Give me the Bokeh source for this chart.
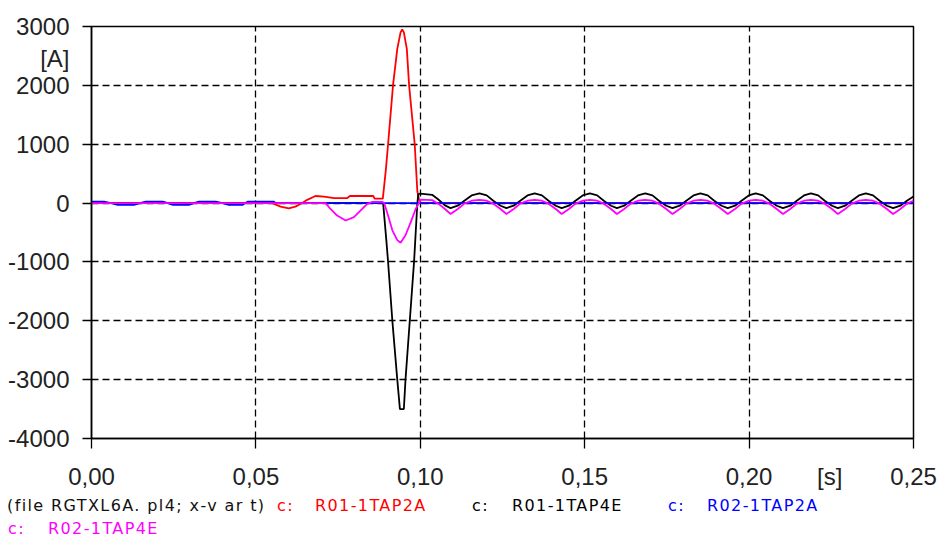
from bokeh.plotting import figure
from bokeh.layouts import column
from bokeh.models import ColumnDataSource, FixedTicker, Range1d, Div
from bokeh.embed import file_html
from bokeh.resources import INLINE

# ---------------- data ----------------
x_ticks = [0.0, 0.05, 0.10, 0.15, 0.20, 0.25]
x_tick_labels = ["0,00", "0,05", "0,10", "0,15", "0,20", "0,25"]
y_ticks = [3000, 2000, 1000, 0, -1000, -2000, -3000, -4000]
y_tick_labels = ["3000", "2000", "1000", "0", "-1000", "-2000", "-3000", "-4000"]

# unit captions, placed along the axes
y_unit_text, y_unit_at = "[A]", 2450
x_unit_text, x_unit_at = "[s]", 0.2245

# R01-1TAP2A (red)
t_r01_2a = [0.0, 0.0550, 0.0575, 0.0600, 0.0620, 0.0641, 0.0656, 0.0681, 0.0707,
            0.0738, 0.0778, 0.0786, 0.0857, 0.0861, 0.0886, 0.0895, 0.0902, 0.0917,
            0.0930, 0.0940, 0.0945, 0.0950, 0.0959, 0.0966, 0.0983, 0.0991, 0.0996,
            0.1001, 0.2500]
v_r01_2a = [0, 0, -60, -90, -60, 0, 55, 120, 110,
            85, 85, 120, 120, 75, 75, 550, 1000, 2000,
            2620, 2900, 2950, 2900, 2620, 2000, 1000, 200, 60,
            0, 0]

# R01-1TAP4E (black) - fault part
t_r01_4e_fault = [0.0, 0.0887, 0.0897, 0.0902, 0.0915, 0.0930, 0.0938, 0.0950, 0.0955,
                  0.0968, 0.0981, 0.0991, 0.0994, 0.1000, 0.1036, 0.1055, 0.1075]
v_r01_4e_fault = [0, 0, -650, -1000, -2000, -3000, -3500, -3500, -3000,
                  -2000, -1000, 0, 150, 160, 140, 60, -40]

# R02-1TAP4E (magenta) - fault part
t_r02_4e_fault = [0.0, 0.0712, 0.0727, 0.0747, 0.0773, 0.0798, 0.0818, 0.0838, 0.0854,
                  0.0884, 0.0890, 0.0902, 0.0915, 0.0930, 0.0940, 0.0955, 0.0971,
                  0.0986, 0.0996, 0.1000, 0.1036, 0.1055, 0.1075]
v_r02_4e_fault = [0, 0, -100, -212, -296, -240, -128, -17, 22,
                  22, 0, -212, -463, -630, -675, -547, -324,
                  -100, 0, 60, 50, -10, -100]

# post-fault 60 Hz oscillation (shared time stamps)
t_post = [0.1092, 0.1114, 0.1134, 0.1156, 0.1180, 0.1202, 0.1222, 0.1244,
          0.1262, 0.1284, 0.1304, 0.1326, 0.1348, 0.1370, 0.1390, 0.1412,
          0.1430, 0.1452, 0.1472, 0.1494, 0.1516, 0.1538, 0.1558, 0.1580,
          0.1598, 0.1620, 0.1640, 0.1662, 0.1684, 0.1706, 0.1726, 0.1748,
          0.1767, 0.1789, 0.1809, 0.1831, 0.1852, 0.1874, 0.1894, 0.1916,
          0.1935, 0.1957, 0.1977, 0.1999, 0.2020, 0.2042, 0.2062, 0.2084,
          0.2103, 0.2125, 0.2145, 0.2167, 0.2188, 0.2210, 0.2230, 0.2252,
          0.2270, 0.2292, 0.2312, 0.2334, 0.2355, 0.2377, 0.2397, 0.2419,
          0.2438, 0.2460, 0.2480, 0.2500]
v_r01_4e_post = [-85, -45, 40, 130, 165, 130, 40, -45,
                 -85, -45, 40, 130, 165, 130, 40, -45,
                 -85, -45, 40, 130, 165, 130, 40, -45,
                 -85, -45, 40, 130, 165, 130, 40, -45,
                 -85, -45, 40, 130, 165, 130, 40, -45,
                 -85, -45, 40, 130, 165, 130, 40, -45,
                 -85, -45, 40, 130, 165, 130, 40, -45,
                 -85, -45, 40, 130, 165, 130, 40, -45,
                 -85, -45, 40, 110]
v_r02_4e_post = [-185, -100, -10, 40, 55, 40, -10, -100,
                 -185, -100, -10, 40, 55, 40, -10, -100,
                 -185, -100, -10, 40, 55, 40, -10, -100,
                 -185, -100, -10, 40, 55, 40, -10, -100,
                 -185, -100, -10, 40, 55, 40, -10, -100,
                 -185, -100, -10, 40, 55, 40, -10, -100,
                 -185, -100, -10, 40, 55, 40, -10, -100,
                 -185, -100, -10, 40, 55, 40, -10, -100,
                 -185, -100, -10, 40]

# R02-1TAP2A (blue)
t_r02_2a = [0.0, 0.0038, 0.0059, 0.0080, 0.0129, 0.0147, 0.0165, 0.0217, 0.0232,
            0.0248, 0.0296, 0.0311, 0.0327, 0.0378, 0.0398, 0.0418, 0.0460, 0.0468,
            0.0476, 0.0555, 0.0560, 0.2500]
v_r02_2a = [25, 25, 0, -30, -30, 0, 25, 25, 0,
            -30, -30, 0, 25, 25, 0, -30, -30, 0,
            25, 25, 0, 0]

series_names = ["R01-1TAP2A", "R01-1TAP4E", "R02-1TAP2A", "R02-1TAP4E"]
series_colors = ["#ff0000", "#000000", "#0000ff", "#ff00ff"]
file_caption = "(file RGTXL6A. pl4; x-v ar t)"

# ---------------- main figure ----------------
p = figure(width=938, height=492, output_backend="svg", toolbar_location=None,
           x_range=Range1d(0, 0.25), y_range=Range1d(-4000, 3000),
           min_border_left=91, min_border_right=25, min_border_top=26,
           min_border_bottom=48)
p.background_fill_color = "white"
p.border_fill_color = "white"
p.outline_line_color = "black"
p.outline_line_width = 1.5

src_red = ColumnDataSource(dict(t=t_r01_2a, v=v_r01_2a))
src_black = ColumnDataSource(dict(t=t_r01_4e_fault + t_post, v=v_r01_4e_fault + v_r01_4e_post))
src_blue = ColumnDataSource(dict(t=t_r02_2a, v=v_r02_2a))
src_mag = ColumnDataSource(dict(t=t_r02_4e_fault + t_post, v=v_r02_4e_fault + v_r02_4e_post))

p.line("t", "v", source=src_red, color=series_colors[0], line_width=1.8)
p.line("t", "v", source=src_black, color=series_colors[1], line_width=1.8)
p.line("t", "v", source=src_blue, color=series_colors[2], line_width=1.8)
p.line("t", "v", source=src_mag, color=series_colors[3], line_width=1.8)

# axes: labels on major ticks (incl. unit captions), tick marks drawn as minor ticks
x_major = x_ticks[:5] + [x_unit_at] + x_ticks[5:]
x_major_labels = x_tick_labels[:5] + [x_unit_text] + x_tick_labels[5:]
y_major = y_ticks[:1] + [y_unit_at] + y_ticks[1:]
y_major_labels = y_tick_labels[:1] + [y_unit_text] + y_tick_labels[1:]

p.xaxis.ticker = FixedTicker(ticks=x_major, minor_ticks=x_ticks)
p.xaxis.major_label_overrides = {k: lab for k, lab in zip(x_major, x_major_labels)}
p.yaxis.ticker = FixedTicker(ticks=y_major, minor_ticks=y_ticks)
p.yaxis.major_label_overrides = {k: lab for k, lab in zip(y_major, y_major_labels)}
for ax in (p.xaxis[0], p.yaxis[0]):
    ax.axis_line_color = "black"
    ax.axis_line_width = 1.5
    ax.major_tick_line_color = None
    ax.major_tick_in = 0
    ax.major_tick_out = 0
    ax.minor_tick_line_color = "black"
    ax.minor_tick_line_width = 1.3
    ax.minor_tick_in = 0
    ax.major_label_text_font = "Liberation Sans"
    ax.major_label_text_font_size = "24px"
    ax.major_label_text_color = "#222222"
p.xaxis.minor_tick_out = 10
p.xaxis.major_label_standoff = 14
p.yaxis.minor_tick_out = 9
p.yaxis.major_label_standoff = 13

p.xgrid.ticker = FixedTicker(ticks=x_ticks)
p.ygrid.ticker = FixedTicker(ticks=y_ticks)
for g in (p.xgrid[0], p.ygrid[0]):
    g.grid_line_color = "black"
    g.grid_line_dash = "7 4"
    g.grid_line_width = 1.3

# ---------------- legend strip (HTML text) ----------------
row1_top, row2_top = 4, 27
leg_x = [7, 277, 315, 472, 512, 668, 707, 8, 48]
leg_top = [row1_top] * 7 + [row2_top] * 2
leg_text = [file_caption, "c:", series_names[0], "c:", series_names[1],
            "c:", series_names[2], "c:", series_names[3]]
leg_color = ["#111111", series_colors[0], series_colors[0], series_colors[1], series_colors[1],
             series_colors[2], series_colors[2], series_colors[3], series_colors[3]]
spans = "".join(
    f'<span style="position:absolute;left:{x}px;top:{t}px;color:{c};white-space:pre;">{s}</span>'
    for x, t, s, c in zip(leg_x, leg_top, leg_text, leg_color)
)
legend_html = (
    '<div style="position:relative;width:938px;height:47px;margin:0;padding:0;'
    "font-family:'DejaVu Sans';font-size:16px;line-height:20px;letter-spacing:1.4px;\">"
    + spans + "</div>"
)
leg = Div(text=legend_html, width=938, height=47, margin=0)

layout = column(p, leg, spacing=0)
open("out.html", "w").write(file_html(layout, INLINE))
